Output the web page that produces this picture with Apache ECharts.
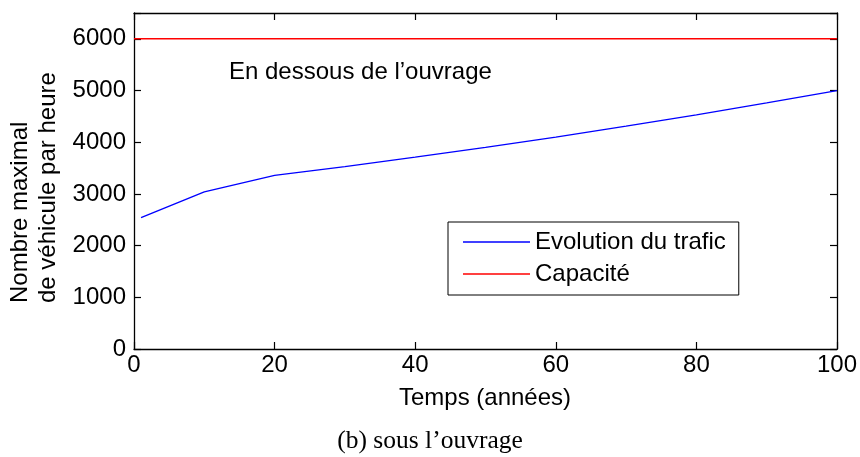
<!DOCTYPE html>
<html>
<head>
<meta charset="utf-8">
<title>Evolution du trafic sous l’ouvrage</title>
<script src="https://cdn.jsdelivr.net/npm/echarts@6/dist/echarts.min.js"></script>
<style>
  html, body { margin: 0; padding: 0; background: #fff; }
  #chart { width: 860px; height: 457px; }
</style>
</head>
<body>
<div id="chart"></div>
<script>
// Traffic forecast (vehicles per hour) against the structure's capacity
const years = [1, 10, 20, 30, 40, 50, 60, 70, 80, 90, 100];
const traffic = [2540, 3040, 3360, 3530, 3710, 3900, 4100, 4310, 4530, 4760, 5000];
const capacityYears = [0, 100];
const capacity = [6000, 6000];
const xTicks = [0, 20, 40, 60, 80, 100];
const yTicks = [0, 1000, 2000, 3000, 4000, 5000, 6000];

const SANS = '"Liberation Sans", Arial, Helvetica, sans-serif';
const SERIF = '"Liberation Serif", "Times New Roman", serif';

const chart = echarts.init(document.getElementById('chart'), null, { renderer: 'canvas' });

const axisLine = { show: true, onZero: false, lineStyle: { color: '#000', width: 1.3 } };
const tick = { show: true, inside: true, length: 7, lineStyle: { color: '#000', width: 1.2 } };

chart.setOption({
  animation: false,
  backgroundColor: '#fff',
  textStyle: { fontFamily: SANS },
  grid: { left: 134, right: 23, top: 13, bottom: 108, containLabel: false },
  xAxis: [
    {
      type: 'value', min: 0, max: 100, interval: 20, position: 'bottom',
      axisLine, axisTick: tick, splitLine: { show: false },
      axisLabel: { color: '#000', fontSize: 24, fontFamily: SANS, margin: 4,
        formatter: v => (xTicks.includes(v) ? String(v) : '') }
    },
    {
      type: 'value', min: 0, max: 100, interval: 20, position: 'top',
      axisLine, axisTick: tick, splitLine: { show: false }, axisLabel: { show: false }
    }
  ],
  yAxis: [
    {
      type: 'value', min: 0, max: 6500, interval: 1000, position: 'left',
      axisLine, axisTick: tick, splitLine: { show: false },
      axisLabel: { color: '#000', fontSize: 24, fontFamily: SANS, margin: 8,
        formatter: v => (yTicks.includes(v) ? String(v) : '') }
    },
    {
      type: 'value', min: 0, max: 6500, interval: 1000, position: 'right',
      axisLine, axisTick: tick, splitLine: { show: false }, axisLabel: { show: false }
    }
  ],
  legend: {
    left: 448, top: 222, orient: 'vertical',
    padding: [8, 13, 9, 15], itemGap: 8, itemWidth: 67, itemHeight: 1.4,
    icon: 'rect',
    borderColor: '#000', borderWidth: 1, borderRadius: 0, backgroundColor: '#fff',
    textStyle: { color: '#000', fontSize: 24, fontFamily: SANS },
    data: ['Evolution du trafic', 'Capacité']
  },
  series: [
    {
      name: 'Evolution du trafic', type: 'line', symbol: 'none',
      lineStyle: { color: '#0000ff', width: 1.3 }, itemStyle: { color: '#0000ff' },
      data: years.map((y, i) => [y, traffic[i]])
    },
    {
      name: 'Capacité', type: 'line', symbol: 'none',
      lineStyle: { color: '#ff0000', width: 1.5 }, itemStyle: { color: '#ff0000' },
      data: capacityYears.map((y, i) => [y, capacity[i]])
    }
  ],
  graphic: [
    { type: 'text', left: 229, top: 60,
      style: { text: 'En dessous de l’ouvrage', fill: '#000', font: '24px ' + SANS } },
    { type: 'text', x: 485, y: 398,
      style: { text: 'Temps (années)', fill: '#000', font: '24px ' + SANS,
        textAlign: 'center', textVerticalAlign: 'middle' } },
    { type: 'text', x: 34, y: 303, rotation: Math.PI / 2,
      style: { text: 'Nombre maximal\nde véhicule par heure', fill: '#000',
        font: '24px ' + SANS, lineHeight: 28,
        textAlign: 'left', textVerticalAlign: 'middle' } },
    { type: 'text', x: 430, y: 441,
      style: { text: '(b) sous l’ouvrage', fill: '#000', font: '25.5px ' + SERIF,
        textAlign: 'center', textVerticalAlign: 'middle' } }
  ]
});
</script>
</body>
</html>
